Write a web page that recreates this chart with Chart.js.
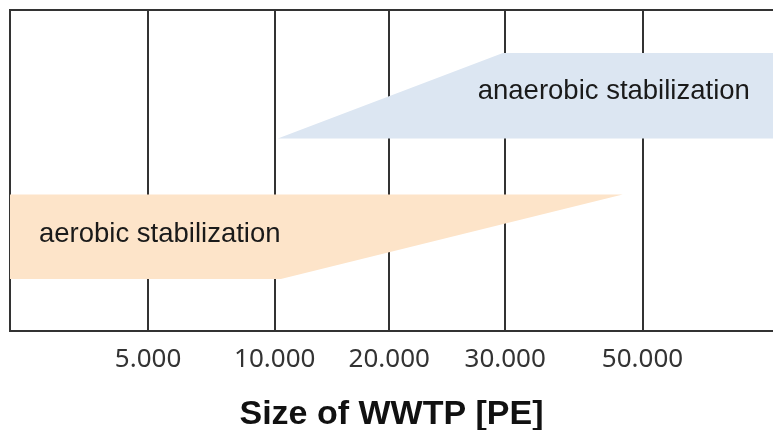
<!DOCTYPE html>
<html>
<head>
<meta charset="utf-8">
<script src="https://cdn.jsdelivr.net/npm/chart.js@4/dist/chart.umd.min.js"></script>
<style>
  html, body { margin: 0; padding: 0; background: #fff; }
  #wrap { width: 773px; height: 430px; }
</style>
</head>
<body>
<div id="wrap"><canvas id="c" width="773" height="430"></canvas></div>
<script>
// schematic x axis (0..100 units), ticks are plant sizes
const tickPos    = [18.1, 34.7, 49.7, 64.9, 82.9];
const tickLabels = ['5.000', '10.000', '20.000', '30.000', '50.000'];

// range shapes, as closed outlines in axis units
const anaerobicX = [35.1, 64.6, 100, 100, 35.1];
const anaerobicY = [60.0, 86.6, 86.6, 60.0, 60.0];
const aerobicX   = [0, 80.3, 35.5, 0, 0];
const aerobicY   = [42.5, 42.5, 16.2, 16.2, 42.5];

const shapeNames = ['anaerobic stabilization', 'aerobic stabilization'];
const labelX     = [61.3, 3.8];
const labelY     = [72.3, 27.6];

const toPts = (xs, ys) => xs.map((x, i) => ({ x: x, y: ys[i] }));
const LINE = '#333333';

const labelPlugin = {
  id: 'shapeLabels',
  afterDatasetsDraw(chart) {
    const { ctx, scales } = chart;
    ctx.save();
    ctx.font = '27.5px "Liberation Sans", Arial, sans-serif';
    ctx.fillStyle = '#1a1a1a';
    ctx.textAlign = 'left';
    ctx.textBaseline = 'alphabetic';
    shapeNames.forEach((t, i) => {
      ctx.fillText(t, scales.x.getPixelForValue(labelX[i]), scales.y.getPixelForValue(labelY[i]));
    });
    ctx.restore();
  }
};

new Chart(document.getElementById('c'), {
  type: 'scatter',
  data: {
    datasets: [
      {
        data: toPts(anaerobicX, anaerobicY),
        showLine: true, fill: 'shape',
        backgroundColor: '#dce6f2', borderWidth: 0, pointRadius: 0, tension: 0
      },
      {
        data: toPts(aerobicX, aerobicY),
        showLine: true, fill: 'shape', clip: false,
        backgroundColor: '#fde4c9', borderWidth: 0, pointRadius: 0, tension: 0
      }
    ]
  },
  options: {
    responsive: false,
    animation: false,
    layout: { padding: { left: 10, top: 10, right: 0, bottom: 0 } },
    plugins: { legend: { display: false }, tooltip: { enabled: false } },
    scales: {
      x: {
        type: 'linear', min: 0, max: 100,
        afterBuildTicks: s => { s.ticks = tickPos.map(v => ({ value: v })); },
        afterFit: s => { s.height = 99; },
        grid: { color: LINE, lineWidth: 2, drawTicks: false },
        border: { color: LINE, width: 2 },
        ticks: {
          autoSkip: false, maxRotation: 0, padding: 13,
          color: '#333',
          font: { family: '"Noto Sans", sans-serif', size: 26 },
          callback: (v, i) => tickLabels[i]
        },
        title: {
          display: true, text: 'Size of WWTP [PE]', color: '#111',
          font: { family: '"Liberation Sans", Arial, sans-serif', size: 34, weight: 'bold' },
          padding: { top: 0, bottom: -5 }
        }
      },
      y: {
        type: 'linear', min: 0, max: 100,
        afterBuildTicks: s => { s.ticks = [{ value: 0 }, { value: 100 }]; },
        afterFit: s => { s.width = 0; },
        grid: { color: LINE, lineWidth: 2, drawTicks: false },
        border: { color: LINE, width: 2 },
        ticks: { display: false }
      }
    }
  },
  plugins: [labelPlugin]
});
</script>
</body>
</html>
